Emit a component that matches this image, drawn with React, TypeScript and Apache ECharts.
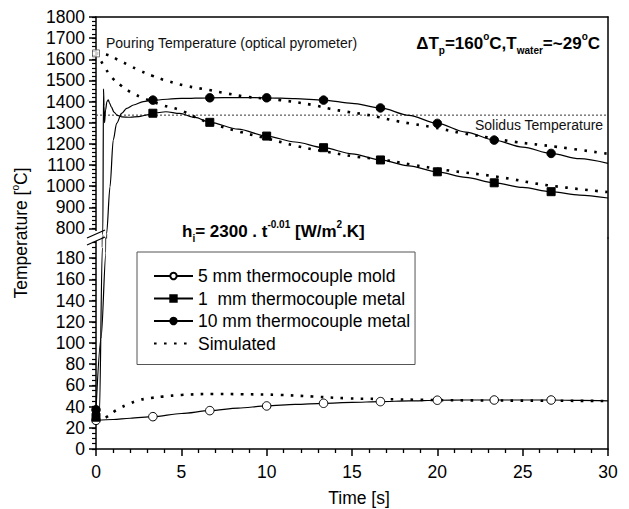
import React, { useEffect, useRef } from "react";
import * as echarts from "echarts";

const FONT = '"Liberation Sans", Arial, Helvetica, sans-serif';

// times (s) where the measured curves carry markers
const MARK_T = [0, 3.333, 6.667, 10, 13.333, 16.667, 20, 23.333, 26.667];

// 5 mm thermocouple in the mold
const moldT = [0, 1, 2, 3.333, 5, 6.667, 8.333, 10, 11.667, 13.333, 15, 16.667, 18.333, 20, 21.667, 23.333, 25, 26.667, 28.333, 30];
const moldV = [27, 27.8, 29, 30.5, 33.5, 36.2, 38.6, 40.6, 42, 43.1, 44, 44.7, 45.4, 46, 46.2, 46.2, 46.2, 46.2, 45.8, 45.4];

// 1 mm thermocouple in the metal
const metal1T = [0, 0.2, 0.37, 0.4, 0.44, 0.47, 0.5, 0.56, 0.64, 0.72, 0.8, 0.9, 1.05, 1.25, 1.5, 2, 2.5, 3, 3.333, 4.1, 4.9, 5.8, 6.667, 8.333, 10, 11.667, 13.333, 15, 16.667, 18.333, 20, 21.667, 23.333, 25, 26.667, 28.333, 30];
const metal1V = [30, 32, 190, 770, 1460, 1380, 1300, 1360, 1400, 1408, 1392, 1375, 1350, 1335, 1328, 1326, 1329, 1337, 1345, 1352, 1344, 1325, 1302, 1270, 1237, 1209, 1182, 1153, 1124, 1096, 1068, 1042, 1016, 994, 974, 958, 944];

// 10 mm thermocouple in the metal
const metal10T = [0, 0.3, 0.58, 0.62, 0.82, 1.01, 1.21, 1.5, 1.8, 2.2, 2.77, 3.333, 5, 6.667, 8.333, 10, 11.667, 13.333, 15, 16.667, 18.333, 20, 21.667, 23.333, 25, 26.667, 28.333, 30];
const metal10V = [37, 105, 185, 775, 997, 1218, 1297, 1344, 1368, 1384, 1400, 1407, 1415, 1418, 1419, 1418, 1414, 1407, 1392, 1370, 1335, 1297, 1256, 1218, 1185, 1155, 1130, 1108];

// simulated curves
const sim10T = [0, 0.7, 1.3, 1.9, 2.5, 3.3, 4.2, 5.3, 6.6, 7.7, 8.8, 10.8, 12.7, 13.7, 14.7, 15.7, 16.6, 17.6, 18.6, 19.6, 21.5, 23, 24.5, 27, 30];
const sim10V = [1630, 1620, 1597, 1573, 1549, 1522, 1497, 1474, 1455, 1438, 1423, 1407, 1384, 1366, 1352, 1340, 1326, 1308, 1294, 1281, 1250, 1230, 1210, 1186, 1153];

const sim1T = [0, 0.2, 0.43, 0.92, 1.5, 2.09, 2.68, 3.85, 4.92, 5.8, 6.68, 8.44, 10, 11.76, 13.5, 15.27, 16.64, 18.5, 20.5, 23.5, 26.4, 30];
const sim1V = [1630, 1605, 1573, 1515, 1474, 1442, 1420, 1384, 1360, 1327, 1298, 1257, 1226, 1190, 1163, 1139, 1127, 1102, 1076, 1045, 1005, 972];

const simMoldT = [0, 0.6, 1.2, 2, 2.5, 3.2, 3.9, 5, 6.9, 8.5, 10.8, 12.7, 14.7, 16.6, 19.6, 22.5, 25.4, 30];
const simMoldV = [27, 30, 36.8, 43, 46, 48, 49.4, 51, 51.9, 51.7, 51, 49.5, 47.8, 47.2, 46.2, 45.8, 45.6, 45.3];

const SOLIDUS_T = [0, 30];
const SOLIDUS_V = 1336;
const POURING_T = 0;
const POURING_V = 1628;

// axis ticks / labels
const UPPER_LABELS = [800, 900, 1000, 1100, 1200, 1300, 1400, 1500, 1600, 1700, 1800];
const LOWER_LABELS = [0, 20, 40, 60, 80, 100, 120, 140, 160, 180];
const UPPER_MINOR: number[] = [];
for (let v = 780; v <= 1800; v += 20) UPPER_MINOR.push(v);
const LOWER_MINOR: number[] = [];
for (let v = 0; v <= 195; v += 5) LOWER_MINOR.push(v);

const N_MOLD = "5 mm thermocouple mold";
const N_M1 = "1  mm thermocouple metal";
const N_M10 = "10 mm thermocouple metal";
const N_SIM = "Simulated";

function markedData(T: number[], V: number[]) {
  return T.map((t, i) =>
    MARK_T.some((m) => Math.abs(m - t) < 0.01)
      ? { value: [t, V[i]] }
      : { value: [t, V[i]], symbol: "none" }
  );
}
function plainData(T: number[], V: number[]) {
  return T.map((t, i) => [t, V[i]]);
}

function solid(name: string, symbol: string, fill: string, xi: number, yi: number, T: number[], V: number[]) {
  return {
    type: "line",
    name,
    xAxisIndex: xi,
    yAxisIndex: yi,
    data: markedData(T, V),
    symbol,
    symbolSize: symbol === "rect" ? 8 : 8.5,
    showSymbol: true,
    smooth: 0.3,
    smoothMonotone: "x",
    lineStyle: { color: "#000", width: 1.2 },
    itemStyle: { color: fill, borderColor: "#000", borderWidth: 1 },
    emphasis: { disabled: true },
    z: 3,
  };
}
function dotted(xi: number, yi: number, T: number[], V: number[]) {
  return {
    type: "line",
    name: N_SIM,
    xAxisIndex: xi,
    yAxisIndex: yi,
    data: plainData(T, V),
    symbol: "none",
    smooth: 0.4,
    lineStyle: { color: "#000", width: 2.6, type: [2.6, 7.4], cap: "butt" },
    itemStyle: { color: "#000" },
    emphasis: { disabled: true },
    z: 2,
  };
}

const axisLineStyle = { color: "#000", width: 1.5 };
const labelStyle = { color: "#000", fontSize: 17.5, fontFamily: FONT, formatter: (v: number) => String(v) };

const UPPER = { top: 17, height: 221, min: 755, max: 1800 };
const LOWER = { top: 238, height: 211, min: 0, max: 199 };
const GRID_L = 96;
const GRID_R = 21;

const option: any = {
  animation: false,
  backgroundColor: "#fff",
  grid: [
    { left: GRID_L, right: GRID_R, top: UPPER.top, height: UPPER.height, outerBoundsMode: "none" },
    { left: GRID_L, right: GRID_R, top: LOWER.top, height: LOWER.height, outerBoundsMode: "none" },
  ],
  xAxis: [
    {
      gridIndex: 0, type: "value", min: 0, max: 30, position: "top",
      axisLine: { show: true, onZero: false, lineStyle: axisLineStyle },
      axisTick: { show: false }, axisLabel: { show: false }, splitLine: { show: false },
    },
    {
      gridIndex: 1, type: "value", min: 0, max: 30, interval: 5, position: "bottom",
      axisLine: { show: true, onZero: false, lineStyle: axisLineStyle },
      axisTick: { show: true, length: 7, lineStyle: { color: "#000", width: 1.5 } },
      minorTick: { show: true, splitNumber: 5, length: 4, lineStyle: { color: "#000", width: 1.3 } },
      axisLabel: { ...labelStyle, margin: 14 },
      splitLine: { show: false }, minorSplitLine: { show: false },
    },
  ],
  yAxis: [
    {
      gridIndex: 0, type: "value", min: UPPER.min, max: UPPER.max, position: "left",
      axisLine: { show: true, onZero: false, lineStyle: axisLineStyle },
      axisTick: { show: true, length: 7, customValues: UPPER_LABELS, lineStyle: { color: "#000", width: 1.5 } },
      axisLabel: { ...labelStyle, margin: 11, customValues: UPPER_LABELS },
      splitLine: { show: false },
    },
    {
      gridIndex: 0, type: "value", min: UPPER.min, max: UPPER.max, position: "right",
      axisLine: { show: true, onZero: false, lineStyle: axisLineStyle },
      axisTick: { show: false }, axisLabel: { show: false }, splitLine: { show: false },
    },
    {
      gridIndex: 1, type: "value", min: LOWER.min, max: LOWER.max, position: "left",
      axisLine: { show: true, onZero: false, lineStyle: axisLineStyle },
      axisTick: { show: true, length: 7, customValues: LOWER_LABELS, lineStyle: { color: "#000", width: 1.5 } },
      axisLabel: { ...labelStyle, margin: 11, customValues: LOWER_LABELS },
      splitLine: { show: false },
    },
    {
      gridIndex: 1, type: "value", min: LOWER.min, max: LOWER.max, position: "right",
      axisLine: { show: true, onZero: false, lineStyle: axisLineStyle },
      axisTick: { show: false }, axisLabel: { show: false }, splitLine: { show: false },
    },
    {
      gridIndex: 0, type: "value", min: UPPER.min, max: UPPER.max, position: "left",
      axisLine: { show: false, onZero: false },
      axisTick: { show: true, length: 4, customValues: UPPER_MINOR, lineStyle: { color: "#000", width: 1.2 } },
      axisLabel: { show: false, customValues: UPPER_MINOR }, splitLine: { show: false },
    },
    {
      gridIndex: 1, type: "value", min: LOWER.min, max: LOWER.max, position: "left",
      axisLine: { show: false, onZero: false },
      axisTick: { show: true, length: 4, customValues: LOWER_MINOR, lineStyle: { color: "#000", width: 1.2 } },
      axisLabel: { show: false, customValues: LOWER_MINOR }, splitLine: { show: false },
    },
  ],
  legend: {
    orient: "vertical",
    left: 137,
    top: 252,
    padding: [15, 5, 12, 16],
    itemWidth: 39,
    itemHeight: 8,
    itemGap: 4.5,
    borderColor: "#555",
    borderWidth: 1,
    backgroundColor: "#fff",
    selectedMode: false,
    textStyle: { color: "#000", fontSize: 17.5, fontFamily: FONT, lineHeight: 18 },
    data: [
      { name: N_MOLD },
      { name: N_M1 },
      { name: N_M10 },
      { name: N_SIM, itemStyle: { opacity: 0 } },
    ],
    z: 10,
  },
  series: [
    // upper section
    solid(N_M1, "rect", "#000", 0, 0, metal1T, metal1V),
    solid(N_M10, "circle", "#000", 0, 0, metal10T, metal10V),
    dotted(0, 0, sim10T, sim10V),
    dotted(0, 0, sim1T, sim1V),
    {
      type: "line", name: "Solidus", xAxisIndex: 0, yAxisIndex: 0,
      data: SOLIDUS_T.map((t) => [t, SOLIDUS_V]), symbol: "none",
      lineStyle: { color: "#333", width: 1, type: [2, 2] }, emphasis: { disabled: true }, z: 1,
    },
    {
      type: "scatter", name: "Pouring", xAxisIndex: 0, yAxisIndex: 0,
      data: [[POURING_T, POURING_V]], symbol: "rect", symbolSize: 7, clip: false,
      itemStyle: { color: "#fff", borderColor: "#555", borderWidth: 1 }, emphasis: { disabled: true }, z: 4,
    },
    // lower section
    solid(N_MOLD, "circle", "#fff", 1, 2, moldT, moldV),
    solid(N_M1, "rect", "#000", 1, 2, metal1T, metal1V),
    solid(N_M10, "circle", "#000", 1, 2, metal10T, metal10V),
    dotted(1, 2, simMoldT, simMoldV),
  ],
  graphic: [
    // axis break
    { type: "rect", shape: { x: 84, y: 231, width: 15, height: 10 }, style: { fill: "#fff" }, z: 100 },
    { type: "line", shape: { x1: 87, y1: 238, x2: 105, y2: 230 }, style: { stroke: "#000", lineWidth: 1.3 }, z: 101 },
    { type: "line", shape: { x1: 87, y1: 245, x2: 105, y2: 237 }, style: { stroke: "#000", lineWidth: 1.3 }, z: 101 },
    {
      type: "text", x: 106, y: 43, z: 50,
      style: { text: "Pouring Temperature (optical pyrometer)", fontSize: 14, fontFamily: FONT, fill: "#111", verticalAlign: "middle" },
    },
    {
      type: "text", x: 475, y: 125, z: 50,
      style: { text: "Solidus Temperature", fontSize: 14, fontFamily: FONT, fill: "#111", verticalAlign: "middle" },
    },
    {
      type: "text", x: 600, y: 43, z: 50,
      style: {
        text: "{b|\u0394T}{sub|p}{b|=160}{sup|o}{b|C,T}{sub|water}{b|=~29}{sup|o}{b|C}",
        align: "right", verticalAlign: "middle", fill: "#000",
        rich: {
          b: { fontSize: 17, fontWeight: "bold", fontFamily: FONT, lineHeight: 24 },
          sub: { fontSize: 10, fontWeight: "bold", fontFamily: FONT, lineHeight: 12, verticalAlign: "bottom" },
          sup: { fontSize: 10, fontWeight: "bold", fontFamily: FONT, lineHeight: 12, verticalAlign: "top" },
        },
      },
    },
    {
      type: "text", x: 182, y: 231, z: 50,
      style: {
        text: "{b|h}{sub|i}{b|= 2300 . t}{sup|-0.01}{b| [W/m}{sup|2}{b|.K]}",
        align: "left", verticalAlign: "middle", fill: "#000",
        rich: {
          b: { fontSize: 17, fontWeight: "bold", fontFamily: FONT, lineHeight: 24 },
          sub: { fontSize: 10, fontWeight: "bold", fontFamily: FONT, lineHeight: 12, verticalAlign: "bottom" },
          sup: { fontSize: 10, fontWeight: "bold", fontFamily: FONT, lineHeight: 12, verticalAlign: "top" },
        },
      },
    },
    {
      type: "text", x: 21, y: 233, rotation: Math.PI / 2, z: 50,
      style: {
        text: "{n|Temperature [}{sup|o}{n|C]}",
        align: "center", verticalAlign: "middle", fill: "#000",
        rich: {
          n: { fontSize: 17.5, fontFamily: FONT, lineHeight: 22 },
          sup: { fontSize: 10, fontFamily: FONT, lineHeight: 12, verticalAlign: "top" },
        },
      },
    },
    {
      type: "text", x: 359, y: 498, z: 50,
      style: { text: "Time [s]", fontSize: 17.5, fontFamily: FONT, fill: "#000", align: "center", verticalAlign: "middle" },
    },
  ],
};

export default function App() {
  const ref = useRef<HTMLDivElement>(null);
  useEffect(() => {
    const chart = echarts.init(ref.current!, null, { renderer: "svg" });
    chart.setOption(option);
    return () => chart.dispose();
  }, []);
  return (
    <div
      ref={ref}
      style={{ position: "fixed", left: 0, top: 0, width: 629, height: 509, background: "#fff" }}
    />
  );
}
